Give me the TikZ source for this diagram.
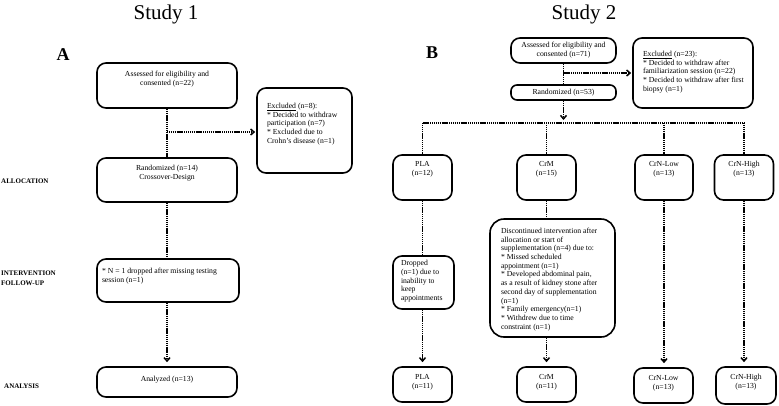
\documentclass[tikz,border=0pt]{standalone}
\usepackage{fontspec}
\setmainfont{Liberation Serif}
\usetikzlibrary{arrows.meta}
\newcommand{\ctx}[4]{\parbox[c][#2pt][t]{#1pt}{\vspace*{#3pt}\centering #4\par}}
\newcommand{\ltx}[5]{\parbox[c][#2pt][t]{#1pt}{\vspace*{#3pt}\raggedright\leftskip=#4pt #5\par}}
\tikzset{
  bx/.style={draw, line width=1.6pt, rounded corners=9pt, inner sep=0pt, font=\fontsize{7.7}{8.7}\selectfont},
  dl/.style={line width=1.5pt, dash pattern=on 1.2pt off 0.7pt},
  arr/.style={-{Straight Barb[length=3.5pt,width=6pt]}, shorten >=4pt},
  lab/.style={inner sep=0pt, font=\fontsize{7}{9.5}\selectfont\bfseries, align=left, anchor=west},
  ttl/.style={inner sep=0pt, font=\fontsize{21}{21}\selectfont},
  let/.style={inner sep=0pt, font=\fontsize{18}{18}\selectfont\bfseries}
}
\begin{document}
\begin{tikzpicture}[x=1pt,y=-1pt]
\useasboundingbox (0,0) rectangle (779,405);
% titles
\node[ttl] (t1) at (166,14) {Study 1};
\node[ttl] (t2) at (584,14) {Study 2};
\node[let] (la) at (63,55) {A};
\node[let] (lb) at (432,53) {B};
% left labels
\node[lab] (alloc) at (1,181) {ALLOCATION};
\node[lab] (inter) at (1,278) {INTERVENTION\\FOLLOW-UP};
\node[lab] (anal) at (4,386) {ANALYSIS};
% Study 1
\node[bx] (a1) at (167,85.5) {\ctx{140}{45}{8.5}{Assessed for eligibility and\\consented (n=22)}};
\node[bx] (ex1) at (304.5,130.5) {\ltx{95}{85}{15}{10}{\underline{Excluded} (n=8):\\{}* Decided to withdraw\\participation (n=7)\\{}* Excluded due to\\Crohn's disease (n=1)}};
\node[bx] (r1) at (167,180) {\ctx{140}{44}{7.5}{Randomized (n=14)\\Crossover-Design}};
\node[bx] (i1) at (168,280.5) {\ltx{142}{43}{9}{5}{* N = 1 dropped after missing testing\\session (n=1)}};
\node[bx] (an1) at (167,382) {\ctx{140}{30}{9}{Analyzed (n=13)}};
\coordinate (j1) at (167,132);
\draw[dl] (a1.south) -- (r1.north);
\draw[dl,arr,shorten >=1pt] (j1) -- (j1 -| ex1.west);
\draw[dl] (r1.south) -- (r1.south |- i1.north);
\draw[dl,arr] (r1.south |- i1.south) -- (an1.north);
% Study 2
\node[bx] (a2) at (563.5,50.5) {\ctx{105}{25}{4.5}{Assessed for eligibility and\\consented (n=71)}};
\node[bx] (ex2) at (693,73) {\ltx{120}{70}{13}{10}{\underline{Excluded} (n=23):\\{}* Decided to withdraw after\\familiarization session (n=22)\\{}* Decided to withdraw after first\\biopsy (n=1)}};
\node[bx,rounded corners=6pt] (r2) at (563.5,92.5) {\ctx{105}{15}{4}{Randomized (n=53)}};
\coordinate (j2) at (563.5,73);
\coordinate (hb) at (563.5,123);
\draw[dl] (a2.south) -- (r2.north);
\draw[dl,arr,shorten >=1pt] (j2) -- (j2 -| ex2.west);
\draw[dl,arr,shorten >=3pt] (r2.south) -- (hb);
% row 2
\node[bx] (p2) at (422.5,177.5) {\ctx{59}{45}{6.5}{PLA\\(n=12)}};
\node[bx] (c2) at (546.5,177.5) {\ctx{59}{45}{6.5}{CrM\\(n=15)}};
\node[bx] (l2) at (664,177.5) {\ctx{58}{45}{6.5}{CrN-Low\\(n=13)}};
\node[bx] (h2) at (744,177.5) {\ctx{59}{45}{6.5}{CrN-High\\(n=13)}};
\draw[dl] (p2.north |- hb) -- (h2.north |- hb);
\draw[dl] (p2.north |- hb) -- (p2.north);
\draw[dl] (c2.north |- hb) -- (c2.north);
\draw[dl] (l2.north |- hb) -- (l2.north);
\draw[dl] (h2.north |- hb) -- (h2.north);
% row 3
\node[bx] (d2) at (423.5,282.5) {\ltx{61}{53}{4.5}{8}{Dropped\\(n=1) due to\\inability to\\keep\\appointments}};
\node[bx,rounded corners=14pt] (dc2) at (552.5,278) {\ltx{125}{118}{9}{11}{Discontinued intervention after\\allocation or start of\\supplementation (n=4) due to:\\{}* Missed scheduled\\appointment (n=1)\\{}* Developed abdominal pain,\\as a result of kidney stone after\\second day of supplementation\\(n=1)\\{}* Family emergency(n=1)\\{}* Withdrew due to time\\constraint (n=1)}};
% row 4
\node[bx] (p3) at (422.5,384.5) {\ctx{59}{35}{7.5}{PLA\\(n=11)}};
\node[bx] (c3) at (546.5,384.5) {\ctx{59}{35}{7.5}{CrM\\(n=11)}};
\node[bx] (l3) at (663.5,385.5) {\ctx{59}{35}{7.5}{CrN-Low\\(n=13)}};
\node[bx] (h3) at (746,385.5) {\ctx{60}{37}{7.5}{CrN-High\\(n=13)}};
% connectors
\draw[dl] (p2.south) -- (p2.south |- d2.north);
\draw[dl,arr] (p2.south |- d2.south) -- (p3.north);
\draw[dl] (c2.south) -- (c2.south |- dc2.north);
\draw[dl,arr] (c2.south |- dc2.south) -- (c3.north);
\draw[dl,arr] (l2.south) -- (l2.south |- l3.north);
\draw[dl,arr] (h2.south) -- (h2.south |- h3.north);
\end{tikzpicture}
\end{document}
